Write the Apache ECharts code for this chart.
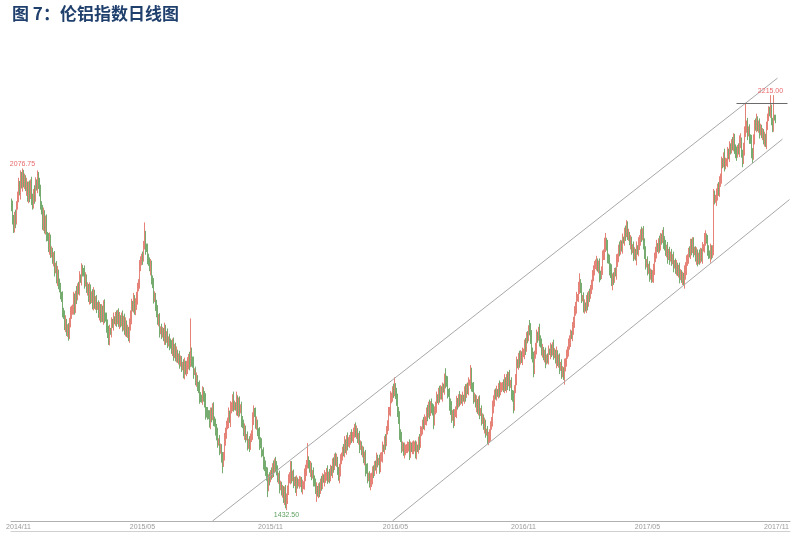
<!DOCTYPE html>
<html>
<head>
<meta charset="utf-8">
<script src="https://cdn.jsdelivr.net/npm/echarts@6/dist/echarts.min.js"></script>
<style>
html,body{margin:0;padding:0;background:#fff;}
#chart{width:809px;height:539px;}
</style>
</head>
<body>
<div id="chart"></div>
<script>
// ---- data ----
const startDate = '2014-10-23';
const categoryCount = 779;
const holidays = ['2014-12-25','2014-12-26','2015-01-01','2015-04-03','2015-04-06','2015-05-04','2015-05-25','2015-08-31','2015-12-25','2015-12-28','2016-01-01','2016-03-25','2016-03-28','2016-05-02','2016-05-30','2016-08-29','2016-12-26','2016-12-27','2017-01-02','2017-04-14','2017-04-17','2017-05-01','2017-05-29','2017-08-28'];
const labelMonths = ['2014/11','2015/05','2015/11','2016/05','2016/11','2017/05','2017/11'];
const firstOpen = 2012;
const closes = [
2004,1983,1966,1985,1978,2008,2024,2048,2031,2060,
2049,2068,2047,2058,2040,2044,2022,2041,2026,2049,
2020,2008,2031,2024,2050,2041,2062,2046,2037,2008,
1997,1972,1990,1962,1978,1951,1946,1928,1942,1918,
1921,1903,1908,1886,1892,1870,1878,1857,1855,1836,
1833,1808,1799,1782,1786,1768,1774,1760,1790,1803,
1808,1813,1832,1810,1840,1836,1852,1850,1870,1868,
1886,1882,1880,1864,1871,1848,1851,1833,1849,1830,
1838,1822,1840,1820,1826,1816,1819,1804,1811,1796,
1812,1793,1817,1798,1795,1777,1772,1755,1770,1769,
1785,1784,1792,1789,1797,1790,1803,1788,1792,1785,
1799,1779,1791,1775,1781,1768,1771,1758,1784,1796,
1818,1816,1831,1808,1824,1830,1851,1862,1892,1902,
1908,1907,1934,1945,1928,1926,1905,1904,1888,1893,
1868,1858,1834,1836,1814,1811,1790,1791,1771,1772,
1767,1769,1758,1772,1754,1764,1749,1752,1747,1746,
1734,1745,1727,1738,1723,1729,1716,1719,1713,1714,
1702,1706,1692,1707,1695,1704,1706,1719,1708,1728,
1714,1709,1693,1694,1677,1680,1664,1663,1647,1644,
1641,1656,1645,1638,1618,1616,1614,1611,1598,1613,
1611,1625,1602,1597,1581,1578,1560,1562,1548,1549,
1530,1520,1536,1568,1574,1594,1598,1615,1602,1625,
1626,1644,1630,1630,1626,1641,1618,1634,1622,1625,
1601,1596,1579,1582,1570,1570,1556,1559,1555,1568,
1576,1606,1617,1616,1596,1597,1578,1575,1560,1559,
1541,1540,1520,1519,1504,1498,1476,1492,1491,1502,
1501,1513,1508,1524,1513,1510,1492,1493,1478,1480,
1466,1470,1454,1465,1451,1455,1468,1493,1494,1512,
1496,1498,1485,1488,1473,1484,1483,1485,1485,1487,
1474,1478,1481,1501,1504,1520,1523,1522,1508,1512,
1499,1501,1489,1486,1469,1470,1466,1472,1470,1485,
1481,1493,1491,1494,1494,1506,1493,1497,1496,1509,
1504,1519,1516,1531,1526,1527,1505,1497,1506,1528,
1532,1546,1545,1559,1547,1564,1560,1562,1562,1574,
1570,1572,1575,1589,1579,1580,1566,1568,1554,1556,
1542,1544,1529,1531,1511,1510,1494,1496,1485,1489,
1490,1506,1504,1518,1515,1527,1523,1525,1513,1532,
1534,1550,1548,1562,1560,1584,1593,1616,1622,1644,
1644,1659,1656,1666,1648,1644,1616,1606,1578,1568,
1552,1553,1542,1546,1546,1551,1551,1553,1540,1553,
1549,1551,1551,1554,1540,1550,1548,1562,1560,1581,
1581,1597,1596,1600,1602,1616,1615,1629,1616,1632,
1626,1619,1598,1622,1628,1644,1641,1653,1649,1660,
1647,1663,1662,1678,1677,1674,1654,1653,1630,1625,
1610,1612,1598,1616,1620,1634,1632,1645,1640,1642,
1641,1644,1643,1656,1651,1664,1660,1672,1674,1691,
1666,1662,1645,1645,1632,1634,1622,1636,1617,1618,
1604,1606,1591,1593,1579,1580,1568,1572,1572,1591,
1601,1628,1636,1652,1651,1655,1652,1663,1659,1664,
1664,1668,1666,1676,1664,1679,1674,1685,1669,1672,
1651,1645,1626,1662,1680,1710,1707,1719,1715,1726,
1716,1729,1729,1742,1740,1759,1758,1774,1772,1759,
1730,1720,1696,1726,1740,1759,1758,1772,1753,1748,
1732,1734,1721,1725,1714,1719,1718,1732,1730,1735,
1731,1742,1728,1729,1715,1726,1712,1715,1702,1705,
1692,1695,1683,1704,1709,1729,1730,1748,1749,1764,
1762,1776,1784,1809,1815,1832,1834,1854,1858,1852,
1832,1832,1816,1817,1814,1828,1824,1838,1837,1851,
1856,1877,1881,1896,1896,1900,1889,1893,1876,1874,
1886,1912,1916,1934,1937,1931,1909,1904,1885,1883,
1868,1870,1868,1882,1881,1901,1906,1927,1923,1933,
1928,1942,1941,1955,1954,1968,1951,1952,1937,1938,
1924,1927,1914,1919,1909,1924,1922,1936,1938,1955,
1950,1961,1931,1920,1896,1900,1886,1889,1876,1879,
1868,1874,1884,1910,1919,1930,1925,1936,1932,1945,
1942,1955,1936,1935,1919,1923,1912,1917,1907,1914,
1904,1907,1894,1898,1887,1892,1881,1885,1874,1879,
1867,1872,1862,1882,1885,1904,1904,1920,1919,1931,
1926,1936,1920,1922,1909,1914,1902,1912,1907,1918,
1909,1926,1928,1945,1947,1942,1921,1917,1912,1922,
1915,1925,2026,2018,2021,2024,2040,2036,2049,2060,
2087,2086,2100,2085,2087,2090,2106,2102,2115,2112,
2125,2122,2134,2112,2106,2103,2115,2112,2125,2126,
2106,2096,2114,2143,2154,2157,2145,2148,2135,2129,
2107,2106,2128,2162,2157,2168,2154,2157,2147,2153,
2140,2143,2130,2134,2122,2156,2173,2187,2181,2191,
2164,2153,2173,2172,2168
];
// typical daily wick length beyond the candle body (points)
const wicks = [
8,12,6,10,14,7,9,11,5,13, 10,16,6,9,6,15,8,11,13,7, 12,9,7,14,10,6,11,8,13,9, 7,11,13,8,10,12,6,9,14,10,
9,6,11,13,7,10,15,8,12,6, 8,12,6,10,14,7,9,11,5,13, 10,7,12,9,6,15,8,11,13,7, 12,9,7,14,10,6,11,8,13,9,
7,11,13,8,10,12,6,9,14,10, 9,6,11,13,7,10,15,8,12,6, 11,8,13,6,9,12,7,10,14,8, 6,10,8,12,15,9,11,7,10,13,
13,9,11,7,8,14,10,6,12,9, 8,12,6,10,14,7,9,11,5,13, 10,7,12,9,6,15,8,11,13,7, 12,9,7,14,10,6,11,8,13,9,
7,11,13,8,10,12,6,9,14,10, 9,6,11,13,7,10,15,8,12,6, 11,8,13,6,9,12,7,10,14,8, 6,10,8,12,15,9,11,7,10,13,
13,9,11,7,8,14,10,6,12,9, 8,12,6,10,14,7,9,11,5,13, 10,7,12,9,6,15,8,11,13,7, 12,9,7,14,10,6,11,8,13,9,
7,11,13,8,10,12,6,9,14,10, 9,6,11,13,7,10,15,8,12,6, 11,8,13,6,9,12,7,10,14,8, 6,10,8,12,15,9,11,7,10,13,
13,9,11,7,8,14,10,6,12,9, 8,12,6,10,14,7,9,11,5,13, 10,7,12,9,6,15,8,11,13,7, 12,9,7,14,10,6,11,8,13,9,
7,11,13,8,10,12,6,9,14,10, 9,6,11,13,7,10,15,8,12,6, 11,8,13,6,9,12,7,10,14,8, 6,10,8,12,15,9,11,7,10,13,
13,9,11,7,8,14,10,6,12,9, 8,12,6,10,14,7,9,11,5,13, 10,7,12,9,6,15,8,11,13,7, 12,9,7,14,10,6,11,8,13,9,
7,11,13,8,10,12,6,9,14,10, 9,6,11,13,7,10,15,8,12,6, 11,8,13,6,9,12,7,10,14,8, 6,10,8,12,15,9,11,7,10,13,
13,9,11,7,8,14,10,6,12,9, 8,12,6,10,14,7,9,11,5,13, 10,7,12,9,6,15,8,11,13,7, 12,9,7,14,10,6,11,8,13,9,
7,11,13,8,10,12,6,9,14,10, 9,6,11,13,7,10,15,8,12,6, 11,8,13,6,9,12,7,10,14,8, 6,10,8,12,15,9,11,7,10,13,
13,9,11,7,8,14,10,6,12,9, 8,12,6,10,14,7,9,11,5,13, 10,7,12,9,6,15,8,11,13,7, 12,9,7,14,10,6,11,8,13,9,
7,11,13,8,10,12,6,9,14,10, 9,6,11,13,7,10,15,8,12,6, 11,8,13,6,9,12,7,10,14,8, 6,10,8,12,15,9,11,7,10,13,
13,9,11,7,8,14,10,6,12,9, 8,12,6,10,14,7,9,11,5,13, 10,7,12,9,6,15,8,11,13,7, 12,9,7,14,10,6,11,8,13,9,
7,11,13,8,10,12,6,9,14,10, 9,6,11,13,7,10,15,8,12,6, 11,8,13,6,9,12,7,10,14,8, 6,10,8,12,15,9,11,7,10,13,
13,9,11,7,8,14,10,6,12,9, 8,12,6,10,14,7,9,11,5,13, 10,7,12,9,6,15,8,11,13,7, 12,9,7,14,10,6,11,8,13,9,
7,11,13,8,10,12,6,9,14,10, 9,6,11,13,7,10,15,8,12,6, 11,8,13,6,9,12,7,10,14,8, 6,10,8,12,8,9,7,7,6,9,
6,8,7,5,6
];
// notable wick extremes (day index -> value)
const wickHighs = {11:2076.75,133:1975,179:1794,296:1559,344:1598,383:1683,434:1700,459:1706,518:1791,568:1879,594:1955,615:1979,631:1964,681:1947,694:1960,722:2143,729:2143,734:2200,759:2215,762:2215};
const wickLows = {2:1955,57:1752,97:1744,211:1502,256:1457,275:1432.5,305:1448,359:1470,393:1530,477:1555,502:1615,522:1683,552:1678,601:1847,641:1862,672:1857,731:2079,741:2087,754:2117};
const peakLabels = [
  {index:11, value:2076.75, text:'2076.75', pos:'top', color:'#e8686b'},
  {index:275, value:1432.5, text:'1432.50', pos:'bottom', color:'#5e9f5e'},
  {index:759, value:2215, text:'2215.00', pos:'top', color:'#e8686b'}
];
// trend lines as [startIndex, startValue, endIndex, endValue]
const channelLines = [
  [201, 1412, 766, 2247],
  [381, 1412, 778, 2018],
  [713, 2044, 771, 2132]
];
const resistanceLine = [725, 2200, 776, 2200];

// ---- categories: trading days ----
function fmt(d){const m=d.getMonth()+1, dd=d.getDate();return d.getFullYear()+'/'+(m<10?'0':'')+m+'/'+(dd<10?'0':'')+dd;}
function iso(d){return fmt(d).replace(/\//g,'-');}
const dates = [];
{
  const d = new Date(startDate+'T12:00:00');
  while (dates.length < categoryCount) {
    const wd = d.getDay();
    if (wd !== 0 && wd !== 6 && holidays.indexOf(iso(d)) < 0) dates.push(fmt(d));
    d.setDate(d.getDate()+1);
  }
}
const labelIdx = {};
for (let i = 0; i < dates.length; i++) {
  const ym = dates[i].slice(0,7);
  if (labelMonths.indexOf(ym) >= 0 && (i === 0 || dates[i-1].slice(0,7) !== ym)) labelIdx[i] = true;
}

const ohlc = closes.map((c, i) => {
  const o = i === 0 ? firstOpen : closes[i-1];
  const w = wicks[i] || 0;
  const lo = wickLows[i] !== undefined ? wickLows[i] : Math.min(o, c) - w;
  const hi = wickHighs[i] !== undefined ? wickHighs[i] : Math.max(o, c) + w;
  return [o, c, lo, hi];
});

const lineData = channelLines.map(l => [
  {coord:[dates[l[0]], l[1]]}, {coord:[dates[l[2]], l[3]]}
]);
lineData.push([
  {coord:[dates[resistanceLine[0]], resistanceLine[1]], lineStyle:{color:'#6b6b6b'}},
  {coord:[dates[resistanceLine[2]], resistanceLine[3]]}
]);

const chart = echarts.init(document.getElementById('chart'), null, {renderer:'canvas'});
chart.setOption({
  animation:false,
  backgroundColor:'#ffffff',
  title:{
    text:'图 7：伦铝指数日线图', left:12, top:5, padding:0,
    textStyle:{fontSize:17, fontWeight:'bold', color:'#1f3f6d', fontFamily:'"Noto Sans CJK SC", sans-serif'}
  },
  grid:{left:11, right:19, top:50, bottom:18, containLabel:false},
  xAxis:[{
    type:'category', data:dates, boundaryGap:true,
    axisLine:{lineStyle:{color:'#b0b0b0', width:1}},
    axisTick:{show:false},
    splitLine:{show:false},
    axisLabel:{
      interval:(i)=>!!labelIdx[i],
      formatter:(v)=>v.slice(0,7),
      color:'#9a9a9a', fontSize:7, margin:3, fontFamily:'"Liberation Sans", sans-serif'
    }
  },{
    type:'category', data:dates, position:'bottom', offset:10,
    axisLine:{lineStyle:{color:'#d0d0d0', width:1}},
    axisTick:{show:false}, axisLabel:{show:false}, splitLine:{show:false}
  }],
  yAxis:{type:'value', min:1412, max:2300, show:false, splitLine:{show:false}},
  series:[{
    type:'candlestick',
    xAxisIndex:0,
    data:ohlc,
    barWidth:1,
    itemStyle:{color:'#e3786e', color0:'#6aa563', borderColor:'#e3786e', borderColor0:'#6aa563', borderWidth:1, opacity:0.92},
    markPoint:{
      silent:true, symbol:'circle', symbolSize:0,
      data:peakLabels.map(p=>({
        coord:[dates[p.index], p.value],
        label:{show:true, formatter:p.text, position:p.pos, distance:1, color:p.color, fontSize:7, fontFamily:'"Liberation Sans", sans-serif'}
      }))
    },
    markLine:{
      silent:true, symbol:['none','none'], animation:false,
      label:{show:false},
      lineStyle:{color:'#a8a8a8', width:1, type:'solid'},
      data:lineData
    }
  }]
});
</script>
</body>
</html>
